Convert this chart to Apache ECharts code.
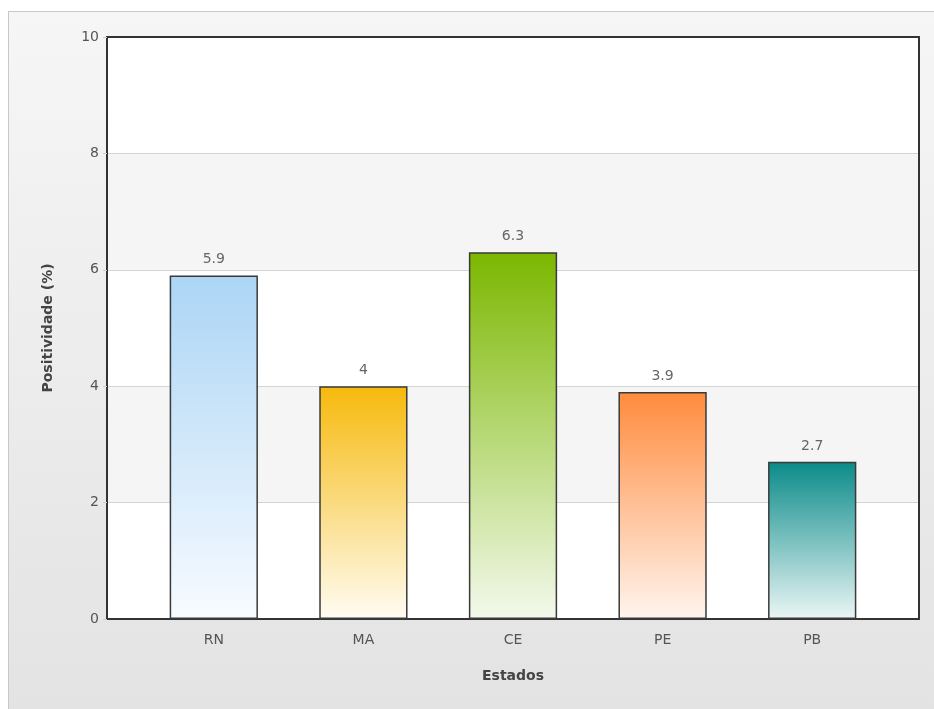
<!DOCTYPE html>
<html>
<head>
<meta charset="utf-8">
<script src="https://cdn.jsdelivr.net/npm/echarts@6/dist/echarts.min.js"></script>
<style>
  html, body { margin: 0; padding: 0; background: #ffffff; }
  #frame { position: absolute; left: 8px; top: 11px; width: 926px; height: 698px;
           border-top: 1px solid #c8c8c8; border-left: 1px solid #c8c8c8;
           background: linear-gradient(to bottom, #f6f6f6 0%, #e3e3e3 100%); }
  #chart { position: absolute; left: 0; top: 0; width: 934px; height: 709px; }
</style>
</head>
<body>
<div id="frame"></div>
<div id="chart"></div>
<script>
// Positividade por estado
const estados = ['RN', 'MA', 'CE', 'PE', 'PB'];
const positividade = [5.9, 4, 6.3, 3.9, 2.7];
const coresTopo = ['#acd5f5', '#f6b90c', '#7bb700', '#ff8b3d', '#0b8b89'];
const coresBase = ['#f7fbff', '#fffcf3', '#f3f9ec', '#fff5ef', '#eaf6f5'];

const font = 'Verdana, "DejaVu Sans", sans-serif';
const frameLine = { show: true, onZero: false, lineStyle: { color: '#333333', width: 2 } };

const chart = echarts.init(document.getElementById('chart'), null, { renderer: 'canvas' });

chart.setOption({
  animation: false,
  backgroundColor: 'transparent',
  grid: [
    // plot frame with bands and value scale
    { left: 107, right: 15, top: 37, bottom: 90,
      show: true, backgroundColor: '#ffffff', borderWidth: 0 },
    // inner area holding the categories, inset from the frame
    { left: 139, right: 47, top: 37, bottom: 90 }
  ],
  xAxis: [
    // bottom and top edges of the frame
    { gridIndex: 0, type: 'value', min: 0, max: 1, position: 'bottom',
      axisLine: frameLine, axisTick: { show: false }, axisLabel: { show: false }, splitLine: { show: false } },
    { gridIndex: 0, type: 'value', min: 0, max: 1, position: 'top',
      axisLine: frameLine, axisTick: { show: false }, axisLabel: { show: false }, splitLine: { show: false } },
    {
      gridIndex: 1,
      type: 'category',
      data: estados,
      name: 'Estados',
      nameLocation: 'middle',
      nameGap: 50,
      nameTextStyle: { fontFamily: font, fontSize: 14, fontWeight: 'bold', color: '#444' },
      axisLine: { show: false },
      axisTick: { show: false },
      axisLabel: { fontFamily: font, fontSize: 14, color: '#555', margin: 14 },
      splitLine: { show: false }
    }
  ],
  yAxis: [
    {
      gridIndex: 0,
      type: 'value',
      min: 0, max: 10, interval: 2,
      position: 'left',
      name: 'Positividade (%)',
      nameLocation: 'middle',
      nameGap: 52,
      nameTextStyle: { fontFamily: font, fontSize: 14, fontWeight: 'bold', color: '#444' },
      axisLine: frameLine,
      axisTick: { show: true, length: 4, lineStyle: { color: '#cccccc' } },
      axisLabel: { fontFamily: font, fontSize: 14, color: '#555', margin: 8 },
      splitLine: { show: true, lineStyle: { color: '#d4d4d4', width: 1 } },
      splitArea: { show: true, areaStyle: { color: ['#ffffff', '#f5f5f5'] } }
    },
    // right edge of the frame
    { gridIndex: 0, type: 'value', min: 0, max: 10, interval: 2, position: 'right',
      axisLine: frameLine, axisTick: { show: false }, axisLabel: { show: false }, splitLine: { show: false } },
    { gridIndex: 1, type: 'value', min: 0, max: 10, interval: 2, show: false }
  ],
  series: [{
    type: 'bar',
    xAxisIndex: 2,
    yAxisIndex: 2,
    barWidth: '59%',
    data: positividade.map((v, i) => ({
      value: v,
      itemStyle: {
        color: new echarts.graphic.LinearGradient(0, 0, 0, 1, [
          { offset: 0, color: coresTopo[i] },
          { offset: 1, color: coresBase[i] }
        ]),
        borderColor: '#3a3a3a',
        borderWidth: 1.5
      }
    })),
    label: {
      show: true, position: 'top', distance: 9,
      fontFamily: font, fontSize: 14, color: '#666'
    }
  }]
});
</script>
</body>
</html>
